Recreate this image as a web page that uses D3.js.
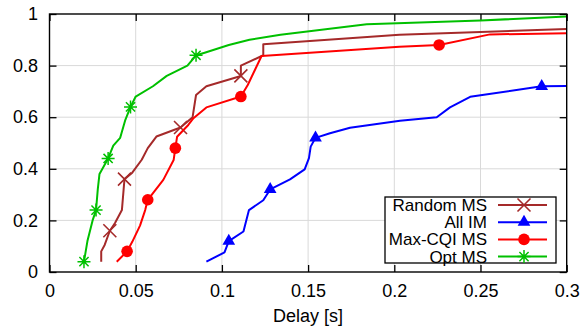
<!DOCTYPE html>
<html>
<head>
<meta charset="utf-8">
<script src="https://cdnjs.cloudflare.com/ajax/libs/d3/7.8.5/d3.min.js"></script>
<style>
  body { margin: 0; background: #fff; }
  text { font-family: "Liberation Sans", Arial, sans-serif; fill: #000; }
</style>
</head>
<body>
<script>
// CDF of delay
let seriesNames = ['Random MS', 'All IM', 'Max-CQI MS', 'Opt MS']

let randomMS = [[0.030,0.04],[0.030,0.08],[0.032,0.105],[0.035,0.16],[0.038,0.19],[0.042,0.24],[0.043,0.32],
  [0.0435,0.36],[0.048,0.385],[0.0535,0.435],[0.057,0.48],[0.062,0.525],[0.076,0.56],[0.083,0.60],[0.085,0.686],
  [0.091,0.72],[0.111,0.76],[0.111,0.80],[0.124,0.84],[0.124,0.883],[0.203,0.92],[0.300,0.942]]
let randomMarks = [3, 7, 12, 16]

let allIM = [[0.091,0.04],[0.1015,0.076],[0.104,0.12],[0.1125,0.157],[0.1157,0.24],[0.124,0.278],[0.128,0.32],
  [0.1395,0.359],[0.148,0.398],[0.1505,0.441],[0.1515,0.486],[0.1543,0.52],[0.1627,0.538],[0.1743,0.559],
  [0.2033,0.586],[0.2246,0.60],[0.2323,0.638],[0.244,0.679],[0.2855,0.72],[0.300,0.721]]
let allIMMarks = [2, 6, 11, 18]

let maxCQI = [[0.039,0.04],[0.045,0.08],[0.048,0.117],[0.0525,0.18],[0.0555,0.24],[0.057,0.28],[0.066,0.357],
  [0.072,0.434],[0.073,0.48],[0.074,0.524],[0.0805,0.57],[0.0835,0.596],[0.091,0.638],[0.111,0.68],[0.115,0.725],
  [0.123,0.837],[0.203,0.873],[0.226,0.88],[0.2555,0.921],[0.300,0.925]]
let maxCQIMarks = [1, 5, 8, 13, 17]

let optMS = [[0.020,0.04],[0.022,0.12],[0.025,0.20],[0.027,0.24],[0.028,0.32],[0.029,0.38],[0.034,0.44],
  [0.037,0.49],[0.041,0.52],[0.044,0.59],[0.047,0.64],[0.050,0.68],[0.060,0.72],[0.068,0.76],[0.080,0.80],
  [0.085,0.84],[0.090,0.85],[0.104,0.88],[0.116,0.90],[0.134,0.92],[0.184,0.96],[0.250,0.975],[0.300,0.99]]
let optMarks = [0, 3, 6, 10, 15]

let xTicks = [0, 0.05, 0.1, 0.15, 0.2, 0.25, 0.3]
let yTicks = [0, 0.2, 0.4, 0.6, 0.8, 1]

let w = 581, h = 329
let pl = 49.5, pr = 566.7, pt = 14, pb = 272

let x = d3.scaleLinear().domain([0, 0.3]).range([pl, pr])
let y = d3.scaleLinear().domain([0, 1]).range([pb, pt])

let svg = d3.select('body').append('svg').attr('width', w).attr('height', h)

svg.append('clipPath').attr('id', 'clip')
  .append('rect').attr('x', pl).attr('y', pt).attr('width', pr - pl).attr('height', pb - pt)

// grid
svg.append('g').selectAll('line').data(xTicks.slice(1, -1)).enter().append('line')
  .attr('x1', d => x(d)).attr('x2', d => x(d)).attr('y1', pt).attr('y2', pb)
  .attr('stroke', '#d9d9d9').attr('stroke-width', 1)
svg.append('g').selectAll('line').data(yTicks.slice(1, -1)).enter().append('line')
  .attr('x1', pl).attr('x2', pr).attr('y1', d => y(d)).attr('y2', d => y(d))
  .attr('stroke', '#d9d9d9').attr('stroke-width', 1)

// axes, ticks on all sides pointing inward
let fmt = d => String(d)
let styleAxis = g => {
  g.select('.domain').remove()
  g.selectAll('.tick line').attr('stroke', '#000').attr('stroke-width', 1.3)
  g.selectAll('.tick text').style('font-size', '18px').attr('fill', '#000')
}
svg.append('g').attr('transform', `translate(0,${pb})`)
  .call(d3.axisBottom(x).tickValues(xTicks).tickFormat(fmt).tickSizeInner(-7).tickSizeOuter(0).tickPadding(12))
  .call(styleAxis)
svg.append('g').attr('transform', `translate(0,${pt})`)
  .call(d3.axisTop(x).tickValues(xTicks).tickFormat('').tickSizeInner(-7).tickSizeOuter(0))
  .call(styleAxis)
svg.append('g').attr('transform', `translate(${pl},0)`)
  .call(d3.axisLeft(y).tickValues(yTicks).tickFormat(fmt).tickSizeInner(-7).tickSizeOuter(0).tickPadding(11.5))
  .call(styleAxis)
svg.append('g').attr('transform', `translate(${pr},0)`)
  .call(d3.axisRight(y).tickValues(yTicks).tickFormat('').tickSizeInner(-7).tickSizeOuter(0))
  .call(styleAxis)

svg.append('text').attr('x', (pl + pr) / 2).attr('y', 322)
  .attr('text-anchor', 'middle').style('font-size', '18px').text('Delay [s]')

// marker shapes
function drawMarker(g, kind, cx, cy, color) {
  if (kind === 'x') {
    let s = 6.5
    g.append('path').attr('d', `M${cx-s},${cy-s}L${cx+s},${cy+s}M${cx-s},${cy+s}L${cx+s},${cy-s}`)
      .attr('stroke', color).attr('stroke-width', 1.6).attr('fill', 'none')
  } else if (kind === 'tri') {
    g.append('path').attr('d', d3.symbol(d3.symbolTriangle, 70)())
      .attr('transform', `translate(${cx},${cy})`).attr('fill', color)
  } else if (kind === 'dot') {
    g.append('circle').attr('cx', cx).attr('cy', cy).attr('r', 5.8).attr('fill', color)
  } else {
    let s = 6.5, d = 4.6
    g.append('path').attr('d', `M${cx-s},${cy}L${cx+s},${cy}M${cx},${cy-s}L${cx},${cy+s}M${cx-d},${cy-d}L${cx+d},${cy+d}M${cx-d},${cy+d}L${cx+d},${cy-d}`)
      .attr('stroke', color).attr('stroke-width', 1.5).attr('fill', 'none')
  }
}

let series = [
  { name: seriesNames[0], data: randomMS, marks: randomMarks, color: '#a52a2a', kind: 'x' },
  { name: seriesNames[1], data: allIM, marks: allIMMarks, color: '#0000ff', kind: 'tri' },
  { name: seriesNames[2], data: maxCQI, marks: maxCQIMarks, color: '#ff0000', kind: 'dot' },
  { name: seriesNames[3], data: optMS, marks: optMarks, color: '#00c000', kind: 'star' }
]

let line = d3.line().x(d => x(d[0])).y(d => y(d[1]))
let plot = svg.append('g').attr('clip-path', 'url(#clip)')

series.forEach(s => {
  plot.append('path').datum(s.data).attr('d', line)
    .attr('fill', 'none').attr('stroke', s.color).attr('stroke-width', 2).attr('stroke-linejoin', 'round')
  s.marks.forEach(i => drawMarker(plot, s.kind, x(s.data[i][0]), y(s.data[i][1]), s.color))
})

// frame
svg.append('rect').attr('x', pl).attr('y', pt).attr('width', pr - pl).attr('height', pb - pt)
  .attr('fill', 'none').attr('stroke', '#000').attr('stroke-width', 1.4)

// legend
let lg = svg.append('g')
lg.append('rect').attr('x', 385).attr('y', 197).attr('width', 171).attr('height', 66)
  .attr('fill', '#fff').attr('stroke', '#000').attr('stroke-width', 1.3)
series.forEach((s, i) => {
  let cy = 205 + i * 17.2
  lg.append('text').attr('x', 487).attr('y', cy).attr('dy', '0.35em').attr('text-anchor', 'end')
    .style('font-size', '17px').text(s.name)
  lg.append('line').attr('x1', 498).attr('x2', 547).attr('y1', cy).attr('y2', cy)
    .attr('stroke', s.color).attr('stroke-width', 2)
  drawMarker(lg, s.kind, 524, cy, s.color)
})
</script>
</body>
</html>
